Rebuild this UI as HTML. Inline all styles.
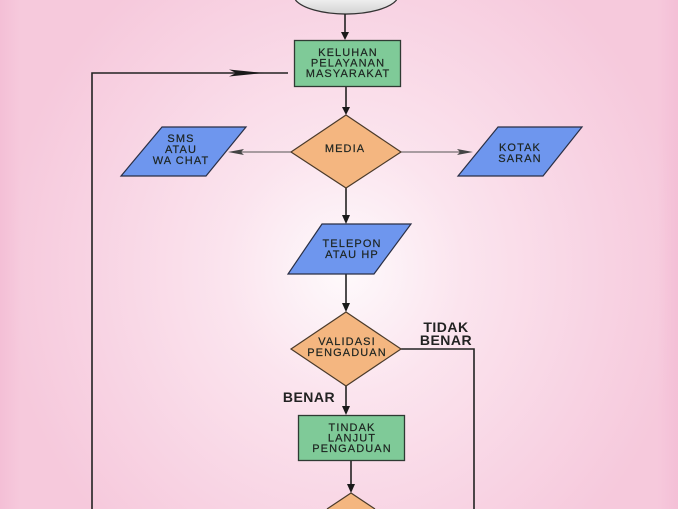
<!DOCTYPE html>
<html><head><meta charset="utf-8"><style>
html,body{margin:0;padding:0;width:678px;height:509px;overflow:hidden;}
body{background:#f7cbdf;}
svg{display:block;}
text{font-family:"Liberation Sans",sans-serif;}
.t{font-size:11px;fill:#1d2420;stroke:#1d2420;stroke-width:0.2;text-anchor:middle;letter-spacing:1.1px;}
.l{font-size:14px;font-weight:bold;fill:#222;text-anchor:middle;letter-spacing:0.5px;}
</style></head><body>
<svg width="678" height="509" viewBox="0 0 678 509" xmlns="http://www.w3.org/2000/svg" style="overflow:hidden">
<defs>
<radialGradient id="bg" cx="345" cy="270" r="360" gradientUnits="userSpaceOnUse" gradientTransform="translate(345 270) scale(0.95 1) translate(-345 -270)">
<stop offset="0" stop-color="#fefafc"/>
<stop offset="0.35" stop-color="#fbe4ee"/>
<stop offset="0.75" stop-color="#f8d3e3"/>
<stop offset="1" stop-color="#f6c9dc"/>
</radialGradient>
<linearGradient id="edge" x1="0" x2="1" y1="0" y2="0">
<stop offset="0" stop-color="#f4bfd6" stop-opacity="1"/>
<stop offset="0.03" stop-color="#f4bfd6" stop-opacity="0"/>
<stop offset="0.97" stop-color="#f4bfd6" stop-opacity="0"/>
<stop offset="1" stop-color="#f4bfd6" stop-opacity="1"/>
</linearGradient>
<linearGradient id="ell" x1="0" x2="0" y1="0" y2="1">
<stop offset="0" stop-color="#eeeeee"/>
<stop offset="1" stop-color="#d2d2d2"/>
</linearGradient>
</defs>
<rect width="678" height="509" fill="url(#bg)"/>
<rect width="678" height="509" fill="url(#edge)"/>

<!-- top ellipse (clipped) -->
<path d="M295.4,0 A53,20 0 0 0 396.6,0 Z" fill="url(#ell)" stroke="none"/>
<path d="M295.4,0 A53,20 0 0 0 396.6,0" fill="none" stroke="#333" stroke-width="1.3"/>

<!-- connectors -->
<g stroke="#222" stroke-width="1.6" fill="none">
<line x1="345" y1="14" x2="345" y2="35"/>
<line x1="346" y1="86" x2="346" y2="110"/>
<line x1="346" y1="188" x2="346" y2="219"/>
<line x1="346" y1="274" x2="346" y2="307"/>
<line x1="346" y1="386" x2="346" y2="410"/>
<line x1="351" y1="461" x2="351" y2="488"/>
<polyline points="92,509 92,73 288,73"/>
<polyline points="401,349 474,349 474,509"/>
</g>
<g stroke="#555" stroke-width="1" fill="none">
<line x1="291" y1="152" x2="236" y2="152"/>
<line x1="401" y1="152" x2="465" y2="152"/>
</g>
<!-- arrowheads -->
<g fill="#1a1a1a">
<polygon points="345,40 341,32 349,32"/>
<polygon points="346,115 342,107 350,107"/>
<polygon points="346,224 342,215 350,215"/>
<polygon points="346,312 342,303 350,303"/>
<polygon points="346,415 342,406 350,406"/>
<polygon points="351,493 347,484 355,484"/>
<polygon points="229,69.5 264,73 229,76.5 236,73"/>
<polygon points="228,152 244,149 241,152 244,155" fill="#444"/>
<polygon points="473,152 457,149 460,152 457,155" fill="#444"/>
</g>

<!-- KELUHAN box -->
<rect x="294.5" y="40.5" width="106" height="46" fill="#7fca98" stroke="#2f3a33" stroke-width="1.3"/>
<text class="t" x="348" y="56">KELUHAN</text>
<text class="t" x="348" y="66.5">PELAYANAN</text>
<text class="t" x="348" y="77">MASYARAKAT</text>

<!-- MEDIA diamond -->
<polygon points="346,115 401,152 346,188 291,152" fill="#f4b680" stroke="#4a3a2a" stroke-width="1.2"/>
<text class="t" x="345" y="152">MEDIA</text>

<!-- SMS parallelogram -->
<polygon points="162,127 246,127 206,176 121,176" fill="#6e96ee" stroke="#2a2f45" stroke-width="1.2"/>
<text class="t" x="181" y="142">SMS</text>
<text class="t" x="181" y="153">ATAU</text>
<text class="t" x="181" y="164">WA CHAT</text>

<!-- KOTAK parallelogram -->
<polygon points="498,127 582,127 543,176 458,176" fill="#6e96ee" stroke="#2a2f45" stroke-width="1.2"/>
<text class="t" x="520" y="151">KOTAK</text>
<text class="t" x="520" y="162">SARAN</text>

<!-- TELEPON parallelogram -->
<polygon points="322,224 411,224 374,274 288,274" fill="#6e96ee" stroke="#2a2f45" stroke-width="1.2"/>
<text class="t" x="352" y="247">TELEPON</text>
<text class="t" x="352" y="258">ATAU HP</text>

<!-- VALIDASI diamond -->
<polygon points="346,312 401,349 346,386 291,349" fill="#f4b680" stroke="#4a3a2a" stroke-width="1.2"/>
<text class="t" x="347" y="345">VALIDASI</text>
<text class="t" x="347" y="356">PENGADUAN</text>

<!-- labels -->
<text class="l" x="446" y="332">TIDAK</text>
<text class="l" x="446" y="345">BENAR</text>
<text class="l" x="309" y="402">BENAR</text>

<!-- TINDAK box -->
<rect x="298.5" y="415.5" width="106" height="45" fill="#7fca98" stroke="#2f3a33" stroke-width="1.3"/>
<text class="t" x="352" y="431">TINDAK</text>
<text class="t" x="352" y="441.5">LANJUT</text>
<text class="t" x="352" y="452">PENGADUAN</text>

<!-- bottom diamond (clipped at frame edge) -->
<polygon points="351,493 375,509 327,509" fill="#f4b680"/>
<polyline points="327,509 351,493 375,509" fill="none" stroke="#4a3a2a" stroke-width="1.2"/>
</svg>
</body></html>
